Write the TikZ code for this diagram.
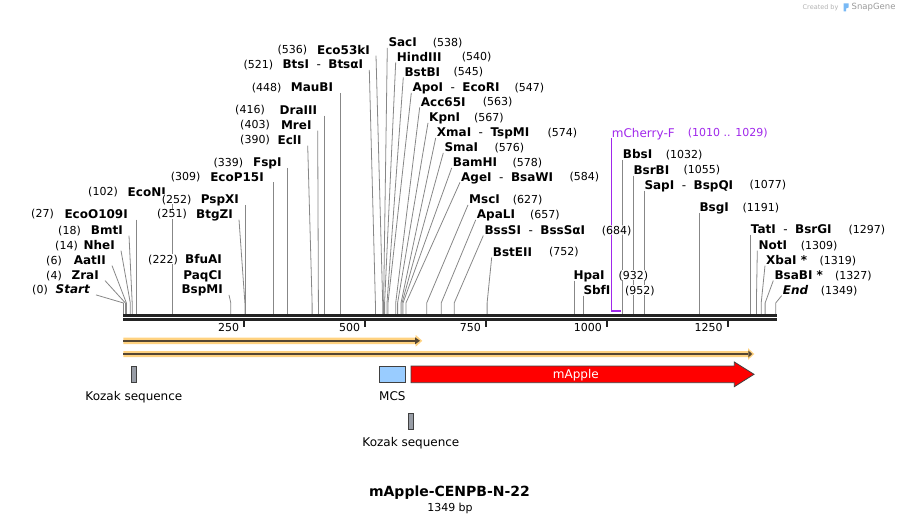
\documentclass[tikz,border=0pt]{standalone}
\usepackage{fontspec}
\setmainfont{DejaVu Sans}
\usetikzlibrary{arrows.meta,backgrounds,positioning}

\definecolor{cutgray}{RGB}{135,135,135}
\definecolor{rulerblack}{RGB}{35,35,35}
\definecolor{featorange}{RGB}{255,210,128}
\definecolor{featdark}{RGB}{85,70,50}
\definecolor{primerpurple}{RGB}{160,40,235}
\definecolor{kozakgray}{RGB}{152,157,166}
\definecolor{mcsblue}{RGB}{153,204,255}
\definecolor{logoblue}{RGB}{120,185,245}

\newcommand{\isosep}{\hspace{7.5pt}{\mdseries-}\hspace{7.5pt}}

\begin{document}
\begin{tikzpicture}[
  x=1pt, y=-1pt,
  enz/.style={font=\bfseries\fontsize{12}{14}\selectfont,
    inner sep=1pt, text height=8.8pt, text depth=0pt},
  num/.style={font=\fontsize{11}{13}\selectfont,
    inner sep=1pt, text height=8pt, text depth=0pt, fill=white},
  cut/.style={draw=cutgray, line width=0.8pt},
  ruler/.style={draw=rulerblack, line width=2.7pt},
  tick/.style={draw=rulerblack, line width=2pt},
  feat/.style={draw=black!75, line width=0.8pt, inner sep=0pt},
  featlab/.style={font=\fontsize{12}{14}\selectfont,
    inner sep=1pt, text height=8.8pt, text depth=0pt},
  primer/.style={draw=primerpurple, line width=1.3pt}]

  \useasboundingbox (0,0) rectangle (900,524);

  % credit line
  \node[font=\fontsize{6.5}{8}\selectfont, text=black!30,
    anchor=west, inner sep=0pt] (credit) at (802.5,7.5) {Created by};
  \fill[logoblue] (843.5,3.5) -- (848.5,3.5) -- (848.5,7.5) -- (846,8.5)
    -- (846,11.5) -- (843.5,11.5) -- cycle;
  \node[font=\fontsize{8.5}{10}\selectfont, text=black!40,
    anchor=west, inner sep=0pt] (snap) at (851.5,7.5) {SnapGene};

  % cut sites on the ruler
  \coordinate (s0) at (123.5,303);
  \coordinate (s4) at (125.4,303);
  \coordinate (s6) at (126.4,303);
  \coordinate (s14) at (130.3,303);
  \coordinate (s18) at (132.2,303);
  \coordinate (s27) at (136.6,303);
  \coordinate (s102) at (172.8,303);
  \coordinate (s222) at (230.8,303);
  \coordinate (s251) at (244.9,303);
  \coordinate (s252) at (245.3,303);
  \coordinate (s309) at (272.9,303);
  \coordinate (s339) at (287.4,303);
  \coordinate (s390) at (312.1,303);
  \coordinate (s403) at (318.4,303);
  \coordinate (s416) at (324.6,303);
  \coordinate (s448) at (340.1,303);
  \coordinate (s521) at (375.4,303);
  \coordinate (s536) at (382.7,303);
  \coordinate (s538) at (383.6,303);
  \coordinate (s540) at (384.6,303);
  \coordinate (s545) at (387.0,303);
  \coordinate (s547) at (388.0,303);
  \coordinate (s563) at (395.7,303);
  \coordinate (s567) at (397.6,303);
  \coordinate (s574) at (401.0,303);
  \coordinate (s576) at (402.0,303);
  \coordinate (s578) at (403.0,303);
  \coordinate (s584) at (405.9,303);
  \coordinate (s627) at (426.7,303);
  \coordinate (s657) at (441.2,303);
  \coordinate (s684) at (454.2,303);
  \coordinate (s752) at (487.1,303);
  \coordinate (s932) at (574.1,303);
  \coordinate (s952) at (583.8,303);
  \coordinate (s1032) at (622.5,303);
  \coordinate (s1055) at (633.6,303);
  \coordinate (s1077) at (644.2,303);
  \coordinate (s1191) at (699.3,303);
  \coordinate (s1297) at (750.6,303);
  \coordinate (s1309) at (756.4,303);
  \coordinate (s1319) at (761.2,303);
  \coordinate (s1327) at (765.1,303);
  \coordinate (s1349) at (775.7,303);
  \coordinate (p1010) at (611.7,310.6);
  \coordinate (p1029) at (620.5,310.6);

  % ruler
  \draw[ruler] (123.3,315.3) -- (776.7,315.3);
  \draw[ruler] (123.3,319.4) -- (776.7,319.4);
  \draw[tick] (244.4,320.6) -- ++(0,6.7);
  \draw[tick] (365.3,320.6) -- ++(0,6.7);
  \draw[tick] (486.1,320.6) -- ++(0,6.7);
  \draw[tick] (607.0,320.6) -- ++(0,6.7);
  \draw[tick] (727.9,320.6) -- ++(0,6.7);
  \node[num, anchor=east] (k250) at (240.4,327.5) {250};
  \node[num, anchor=east] (k500) at (361.3,327.5) {500};
  \node[num, anchor=east] (k750) at (482.1,327.5) {750};
  \node[num, anchor=east] (k1000) at (603.0,327.5) {1000};
  \node[num, anchor=east] (k1250) at (723.9,327.5) {1250};

  % enzymes, left of the cluster
  \node[enz, anchor=east] (start) at (91,289.3) {\itshape Start};
  \node[num, anchor=east] (nstart) at (49,289.3) {(0)};
  \node[enz, anchor=east] (zra) at (100,275) {ZraI};
  \node[num, anchor=east] (nzra) at (63,275) {(4)};
  \node[enz, anchor=east] (aat) at (107,260) {AatII};
  \node[num, anchor=east] (naat) at (63,260) {(6)};
  \node[enz, anchor=east] (nhe) at (116,245) {NheI};
  \node[num, anchor=east] (nnhe) at (79,245) {(14)};
  \node[enz, anchor=east] (bmt) at (124,230) {BmtI};
  \node[num, anchor=east] (nbmt) at (82,230) {(18)};
  \node[enz, anchor=east] (ecoo) at (129,214) {EcoO109I};
  \node[num, anchor=east] (necoo) at (55,214) {(27)};
  \node[enz, anchor=east] (econ) at (167,191.7) {EcoNI};
  \node[num, anchor=east] (necon) at (119,191.7) {(102)};
  \node[enz, anchor=east] (bfua) at (223,259.3) {BfuAI};
  \node[num, anchor=east] (nbfua) at (179,259.3) {(222)};
  \node[enz, anchor=east] (paqc) at (223,274.7) {PaqCI};
  \node[enz, anchor=east] (bspm) at (224,289.3) {BspMI};
  \node[enz, anchor=east] (btgz) at (234,214) {BtgZI};
  \node[num, anchor=east] (nbtgz) at (188,214) {(251)};
  \node[enz, anchor=east] (pspx) at (240,199.3) {PspXI};
  \node[num, anchor=east] (npspx) at (192.7,199.3) {(252)};
  \node[enz, anchor=east] (ecop) at (265,176.7) {EcoP15I};
  \node[num, anchor=east] (necop) at (201.7,176.7) {(309)};
  \node[enz, anchor=east] (fsp) at (282.7,162.3) {FspI};
  \node[num, anchor=east] (nfsp) at (244.3,162.3) {(339)};
  \node[enz, anchor=east] (ecl) at (302.7,140) {EclI};
  \node[num, anchor=east] (necl) at (271,140) {(390)};
  \node[enz, anchor=east] (mre) at (312.7,125) {MreI};
  \node[num, anchor=east] (nmre) at (271,125) {(403)};
  \node[enz, anchor=east] (dra) at (318.3,110) {DraIII};
  \node[num, anchor=east] (ndra) at (266,110) {(416)};
  \node[enz, anchor=east] (maub) at (334.3,87.3) {MauBI};
  \node[num, anchor=east] (nmaub) at (282.7,87.3) {(448)};
  \node[enz, anchor=east] (bts) at (364.3,64.3) {BtsI\isosep BtsαI};
  \node[num, anchor=east] (nbts) at (274.3,64.3) {(521)};
  \node[enz, anchor=east] (eco53) at (371,50) {Eco53kI};
  \node[num, anchor=east] (neco53) at (308.3,50) {(536)};

  % enzymes, right of the cluster
  \node[enz, anchor=west] (sac) at (387.3,42.3) {SacI};
  \node[num, anchor=west] (nsac) at (431.7,42.3) {(538)};
  \node[enz, anchor=west] (hind) at (395.7,56.7) {HindIII};
  \node[num, anchor=west] (nhind) at (460.7,56.7) {(540)};
  \node[enz, anchor=west] (bstb) at (403.3,71.7) {BstBI};
  \node[num, anchor=west] (nbstb) at (452.3,71.7) {(545)};
  \node[enz, anchor=west] (apo) at (411.3,87.3) {ApoI\isosep EcoRI};
  \node[num, anchor=west] (napo) at (513.3,87.3) {(547)};
  \node[enz, anchor=west] (acc) at (419.7,101.7) {Acc65I};
  \node[num, anchor=west] (nacc) at (481.7,101.7) {(563)};
  \node[enz, anchor=west] (kpn) at (428,117.3) {KpnI};
  \node[num, anchor=west] (nkpn) at (473,117.3) {(567)};
  \node[enz, anchor=west] (xma) at (435.7,132.3) {XmaI\isosep TspMI};
  \node[num, anchor=west] (nxma) at (546.3,132.3) {(574)};
  \node[enz, anchor=west] (sma) at (443.3,147.3) {SmaI};
  \node[num, anchor=west] (nsma) at (493.3,147.3) {(576)};
  \node[enz, anchor=west] (bamh) at (451.7,162.3) {BamHI};
  \node[num, anchor=west] (nbamh) at (511.3,162.3) {(578)};
  \node[enz, anchor=west] (age) at (460,176.7) {AgeI\isosep BsaWI};
  \node[num, anchor=west] (nage) at (568.3,176.7) {(584)};
  \node[enz, anchor=west] (msc) at (468,199.3) {MscI};
  \node[num, anchor=west] (nmsc) at (511.7,199.3) {(627)};
  \node[enz, anchor=west] (apal) at (475.7,214.3) {ApaLI};
  \node[num, anchor=west] (napal) at (529,214.3) {(657)};
  \node[enz, anchor=west] (bsss) at (483.3,230) {BssSI\isosep BssSαI};
  \node[num, anchor=west, fill opacity=0.6, text opacity=1]
    (nbsss) at (600.7,230) {(684)};
  \node[enz, anchor=west] (bste) at (491.7,251.7) {BstEII};
  \node[num, anchor=west] (nbste) at (548,251.7) {(752)};
  \node[enz, anchor=west] (hpa) at (572.3,275) {HpaI};
  \node[num, anchor=west] (nhpa) at (617.3,275) {(932)};
  \node[enz, anchor=west] (sbf) at (582.3,290) {SbfI};
  \node[num, anchor=west] (nsbf) at (624,290) {(952)};
  \node[featlab, text=primerpurple, anchor=west] (mch) at (610.7,132.7) {mCherry-F};
  \node[num, text=primerpurple, anchor=west] (nmch) at (686.7,132.7) {(1010 .. 1029)};
  \node[enz, anchor=west] (bbs) at (621.7,154.3) {BbsI};
  \node[num, anchor=west] (nbbs) at (664.7,154.3) {(1032)};
  \node[enz, anchor=west] (bsrb) at (632.3,170) {BsrBI};
  \node[num, anchor=west] (nbsrb) at (682.3,170) {(1055)};
  \node[enz, anchor=west] (sap) at (643.3,185) {SapI\isosep BspQI};
  \node[num, anchor=west] (nsap) at (748.3,185) {(1077)};
  \node[enz, anchor=west] (bsg) at (698.3,207.3) {BsgI};
  \node[num, anchor=west] (nbsg) at (741.3,207.3) {(1191)};
  \node[enz, anchor=west] (tat) at (749.7,229.3) {TatI\isosep BsrGI};
  \node[num, anchor=west] (ntat) at (847.3,229.3) {(1297)};
  \node[enz, anchor=west] (not) at (757.3,245) {NotI};
  \node[num, anchor=west] (nnot) at (799.7,245) {(1309)};
  \node[enz, anchor=west] (xba) at (765,260) {XbaI *};
  \node[num, anchor=west] (nxba) at (818.3,260) {(1319)};
  \node[enz, anchor=west] (bsab) at (773.3,275) {BsaBI *};
  \node[num, anchor=west] (nbsab) at (834,275) {(1327)};
  \node[enz, anchor=west] (fin) at (781.7,290) {\itshape End};
  \node[num, anchor=west] (nfin) at (819.7,290) {(1349)};

  \begin{scope}[on background layer]
    \draw[cut] ([xshift=5pt]start.south east) -- (s0) -- ++(0,11);
    \draw[cut] ([xshift=5pt]zra.south east) -- (s4) -- ++(0,11);
    \draw[cut] ([xshift=5pt]aat.south east) -- (s6) -- ++(0,11);
    \draw[cut] ([xshift=5pt]nhe.south east) -- (s14) -- ++(0,11);
    \draw[cut] ([xshift=5pt]bmt.south east) -- (s18) -- ++(0,11);
    \draw[cut] (s27 |- ecoo.south) -- (s27) -- ++(0,11);
    \draw[cut] (s102 |- econ.south) -- (s102) -- ++(0,11);
    \draw[cut] ([xshift=5pt]bspm.south east) -- (s222) -- ++(0,11);
    \draw[cut] ([xshift=5pt]btgz.south east) -- (s251) -- ++(0,11);
    \draw[cut] (s252 |- pspx.south) -- (s252) -- ++(0,11);
    \draw[cut] (s309 |- ecop.south) -- (s309) -- ++(0,11);
    \draw[cut] (s339 |- fsp.south) -- (s339) -- ++(0,11);
    \draw[cut] ([xshift=5pt]ecl.south east) -- (s390) -- ++(0,11);
    \draw[cut] ([xshift=5pt]mre.south east) -- (s403) -- ++(0,11);
    \draw[cut] (s416 |- dra.south) -- (s416) -- ++(0,11);
    \draw[cut] (s448 |- maub.south) -- (s448) -- ++(0,11);
    \draw[cut] ([xshift=5pt]bts.south east) -- (s521) -- ++(0,11);
    \draw[cut] ([xshift=5pt]eco53.south east) -- (s536) -- ++(0,11);

    \draw[cut] (sac.south west) -- (s538) -- ++(0,11);
    \draw[cut] (hind.south west) -- (s540) -- ++(0,11);
    \draw[cut] (bstb.south west) -- (s545) -- ++(0,11);
    \draw[cut] (apo.south west) -- (s547) -- ++(0,11);
    \draw[cut] (acc.south west) -- (s563) -- ++(0,11);
    \draw[cut] (kpn.south west) -- (s567) -- ++(0,11);
    \draw[cut] (xma.south west) -- (s574) -- ++(0,11);
    \draw[cut] (sma.south west) -- (s576) -- ++(0,11);
    \draw[cut] (bamh.south west) -- (s578) -- ++(0,11);
    \draw[cut] (age.south west) -- (s584) -- ++(0,11);
    \draw[cut] (msc.south west) -- (s627) -- ++(0,11);
    \draw[cut] (apal.south west) -- (s657) -- ++(0,11);
    \draw[cut] (bsss.south west) -- (s684) -- ++(0,11);
    \draw[cut] (bste.south west) -- (s752) -- ++(0,11);
    \draw[cut] (s932 |- hpa.south) -- (s932) -- ++(0,11);
    \draw[cut] (s952 |- sbf.south) -- (s952) -- ++(0,11);
    \draw[cut] (s1032 |- bbs.south) -- (s1032) -- ++(0,11);
    \draw[cut] (s1055 |- bsrb.south) -- (s1055) -- ++(0,11);
    \draw[cut] (s1077 |- sap.south) -- (s1077) -- ++(0,11);
    \draw[cut] (s1191 |- bsg.south) -- (s1191) -- ++(0,11);
    \draw[cut] (s1297 |- tat.south) -- (s1297) -- ++(0,11);
    \draw[cut] (not.south west) -- (s1309) -- ++(0,11);
    \draw[cut] (xba.south west) -- (s1319) -- ++(0,11);
    \draw[cut] (bsab.south west) -- (s1327) -- ++(0,11);
    \draw[cut] (fin.south west) -- (s1349) -- ++(0,11);

    % primer
    \draw[primer] (p1010 |- mch.south) -- (p1010);
    \draw[primer, line width=2.2pt] ([xshift=-0.65pt]p1010) -- (p1029);
  \end{scope}

  % ORFs
  \fill[featorange] (123.3,337.7) -- (415.7,337.7) -- (415.7,335)
    -- (422.3,340.8) -- (415.7,346.7) -- (415.7,344) -- (123.3,344) -- cycle;
  \draw[featdark, line width=2.2pt] (123.3,340.8) -- (415,340.8);
  \fill[featdark] (415,337.3) -- (420,340.8) -- (415,344.3) -- cycle;
  \fill[featorange] (123.3,351) -- (748,351) -- (748,348.2)
    -- (754.3,354) -- (748,359.8) -- (748,357) -- (123.3,357) -- cycle;
  \draw[featdark, line width=2.2pt] (123.3,354) -- (748.3,354);
  \fill[featdark] (748.3,350.5) -- (752.3,354) -- (748.3,357.5) -- cycle;

  % features
  \node[feat, fill=kozakgray, minimum width=5.7pt, minimum height=16.7pt]
    (koz1) at (133.9,374.4) {};
  \node[featlab, below=7.5pt of koz1] (koz1lab) {Kozak sequence};
  \node[feat, fill=mcsblue, minimum width=26.7pt, minimum height=16.7pt]
    (mcs) at (392.4,374.4) {};
  \node[featlab, below=7.5pt of mcs] (mcslab) {MCS};
  \draw[feat, fill=red] (411,366) -- (734.3,366) -- (734.3,362) -- (754,374.3)
    -- (734.3,386.7) -- (734.3,382.7) -- (411,382.7) -- cycle;
  \node[featlab, text=white] (mapple) at (575.8,374.3) {mApple};
  \node[feat, fill=kozakgray, minimum width=5.7pt, minimum height=16pt]
    (koz2) at (410.9,421) {};
  \node[featlab, below=7.5pt of koz2] (koz2lab) {Kozak sequence};

  % title
  \node[font=\bfseries\fontsize{14}{16}\selectfont, inner sep=0pt]
    (title) at (449.5,492.7) {mApple-CENPB-N-22};
  \node[font=\fontsize{11}{13}\selectfont, inner sep=0pt]
    (len) at (450,508) {1349 bp};
\end{tikzpicture}
\end{document}
